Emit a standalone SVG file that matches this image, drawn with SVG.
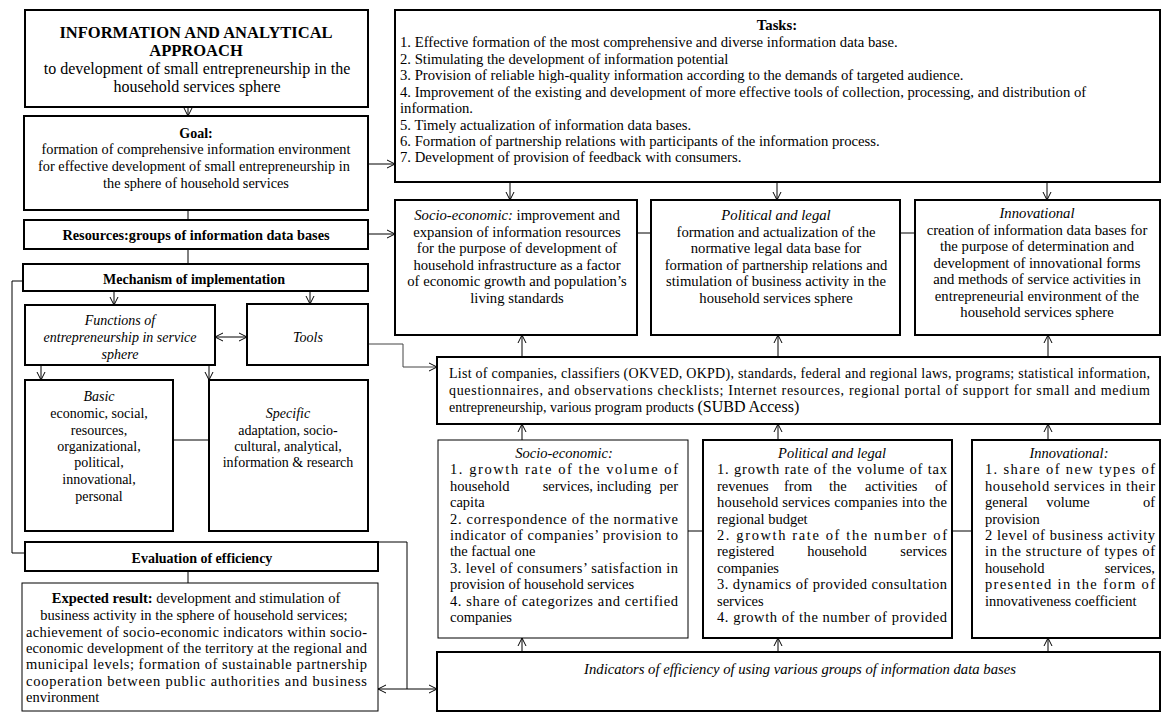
<svg xmlns="http://www.w3.org/2000/svg" width="1168" height="720" viewBox="0 0 1168 720">
<defs>
<style>
.box{fill:#fff;stroke:#000;stroke-width:2}
.thin{stroke-width:1}
.t{font-family:"Liberation Serif","Times New Roman",serif;font-size:14px;fill:#000}
.m{font-size:14.7px}
.s143{font-size:14.3px}
.s145{font-size:14.5px}
.ttl{font-size:16.5px}
.sub{font-size:16px}
.c{text-anchor:middle}
.e{text-anchor:end}
.b{font-weight:bold}
.i{font-style:italic}
.ln{fill:none;stroke:#000;stroke-width:1}
.gr{stroke:#444}
.ar{marker-end:url(#a)}
.ar2{marker-end:url(#a);marker-start:url(#a)}
</style>
<marker id="a" markerWidth="10" markerHeight="10" refX="9" refY="5" orient="auto-start-reverse" markerUnits="userSpaceOnUse"><path d="M1,1 L9,5 L1,9" fill="none" stroke="#000" stroke-width="1"/></marker>
</defs>
<rect width="1168" height="720" fill="#fff"/>

<g id="connectors">
<path class="ln ar" d="M188,107 V116"/>
<path class="ln" d="M188,210 V220"/>
<path class="ln" d="M188,249 V264"/>
<path class="ln ar" d="M368,164 H395"/>
<path class="ln ar" d="M368,234 H395"/>
<path class="ln ar" d="M114,291 V305"/>
<path class="ln ar" d="M310,291 V304"/>
<path class="ln ar2" d="M215,337 H247"/>
<path class="ln ar" d="M41,365 V380"/>
<path class="ln ar" d="M209,365 V380"/>
<path class="ln" d="M173,440 H209"/>
<path class="ln" d="M23,281 H12 V553 H25"/>
<path class="ln" d="M188,571 V583"/>
<path class="ln" d="M378,542 H407 V689"/>
<path class="ln ar2" d="M378,689 H437"/>
<path class="ln gr ar" d="M368,344 H403 V367 H437"/>
<path class="ln ar" d="M510,183 V200"/>
<path class="ln ar" d="M777,183 V200"/>
<path class="ln ar" d="M1047,183 V200"/>
<path class="ln" d="M637,233 H651"/>
<path class="ln" d="M900,233 H915"/>
<path class="ln ar" d="M522,357 V335"/>
<path class="ln ar" d="M778,357 V335"/>
<path class="ln ar" d="M1048,357 V335"/>
<path class="ln ar" d="M522,440 V424"/>
<path class="ln ar" d="M778,440 V424"/>
<path class="ln ar" d="M1048,440 V424"/>
<path class="ln" d="M688,531 H703"/>
<path class="ln" d="M952,531 H972"/>
<path class="ln ar" d="M522,652 V638"/>
<path class="ln ar" d="M778,652 V638"/>
<path class="ln ar" d="M1048,652 V638"/>
</g>

<g id="title">
<rect class="box" x="25" y="10" width="343" height="97"/>
<text class="t ttl b c" x="196" y="38">INFORMATION AND ANALYTICAL</text>
<text class="t ttl b c" x="196" y="56">APPROACH</text>
<text class="t sub c" x="197" y="74">to development of small entrepreneurship in the</text>
<text class="t sub c" x="197" y="92">household services sphere</text>
</g>

<g id="goal">
<rect class="box" x="24" y="116" width="344" height="94"/>
<text class="t b c" x="196" y="138">Goal:</text>
<text class="t s143 c" x="196" y="154">formation of comprehensive  information environment</text>
<text class="t s143 c" x="194" y="171">for effective development  of small entrepreneurship  in</text>
<text class="t s143 c" x="196" y="188">the sphere of household  services</text>
</g>

<g id="resources">
<rect class="box" x="24" y="220" width="344" height="29"/>
<text class="t s143 b c" x="196" y="240">Resources:groups  of information  data bases</text>
</g>

<g id="mechanism">
<rect class="box" x="23" y="264" width="345" height="27"/>
<text class="t b c" x="194" y="284">Mechanism  of implementation</text>
</g>

<g id="functions">
<rect class="box" x="25" y="305" width="190" height="60"/>
<text class="t i c" x="120" y="325">Functions  of</text>
<text class="t i c" x="120" y="342">entrepreneurship   in service</text>
<text class="t i c" x="120" y="359">sphere</text>
</g>

<g id="tools">
<rect class="box" x="247" y="304" width="121" height="61"/>
<text class="t i c" x="308" y="342">Tools</text>
</g>

<g id="basic">
<rect class="box" x="25" y="380" width="148" height="151"/>
<text class="t i c" x="99" y="401">Basic</text>
<text class="t c" x="99" y="418">economic,  social,</text>
<text class="t c" x="99" y="435">resources,</text>
<text class="t c" x="99" y="451">organizational,</text>
<text class="t c" x="99" y="467">political,</text>
<text class="t c" x="99" y="484">innovational,</text>
<text class="t c" x="99" y="501">personal</text>
</g>

<g id="specific">
<rect class="box" x="209" y="380" width="159" height="151"/>
<text class="t i c" x="288" y="418">Specific</text>
<text class="t c" x="288" y="435">adaptation,  socio-</text>
<text class="t c" x="288" y="451">cultural,  analytical,</text>
<text class="t c" x="288" y="467">information &amp; research</text>
</g>

<g id="evaluation">
<rect class="box" x="25" y="542" width="353" height="29"/>
<text class="t b c" x="202" y="563">Evaluation  of efficiency</text>
</g>

<g id="expected">
<rect class="box thin" x="22" y="583" width="356" height="128"/>
<text class="t s145 c" x="196" y="603"><tspan class="b">Expected  result:</tspan> development  and  stimulation  of</text>
<text class="t s145 c" x="194" y="620">business activity in the sphere of household services;</text>
<text class="t s145" x="26" y="637" textLength="341" lengthAdjust="spacing">achievement of socio-economic indicators within socio-</text>
<text class="t s145" x="26" y="653" textLength="341" lengthAdjust="spacing">economic development of the territory at the regional and</text>
<text class="t s145" x="26" y="669" textLength="341" lengthAdjust="spacing">municipal levels; formation of sustainable partnership</text>
<text class="t s145" x="26" y="686" textLength="341" lengthAdjust="spacing">cooperation between public authorities and business</text>
<text class="t s145" x="26" y="702">environment</text>
</g>

<g id="tasks">
<rect class="box" x="395" y="10" width="765" height="172"/>
<text class="t m b c" x="777" y="30">Tasks:</text>
<text class="t m" x="400" y="47">1. Effective formation of the most comprehensive  and diverse information data base.</text>
<text class="t m" x="400" y="64">2. Stimulating the development  of information potential</text>
<text class="t m" x="400" y="80">3. Provision of reliable high-quality  information according to the demands  of targeted audience.</text>
<text class="t m" x="400" y="97">4. Improvement of the existing and development  of more effective tools of collection,  processing,  and distribution of</text>
<text class="t m" x="400" y="113">information.</text>
<text class="t m" x="400" y="130">5. Timely actualization  of information data bases.</text>
<text class="t m" x="400" y="146">6. Formation of partnership  relations with participants  of the information process.</text>
<text class="t m" x="400" y="162">7. Development  of provision of feedback  with consumers.</text>
</g>

<g id="upper-socio">
<rect class="box" x="395" y="200" width="242" height="135"/>
<text class="t m c" x="517" y="220"><tspan class="i">Socio-economic:</tspan>  improvement and</text>
<text class="t m c" x="517" y="237">expansion  of information resources</text>
<text class="t m c" x="517" y="253">for the purpose of development  of</text>
<text class="t m c" x="517" y="270">household  infrastructure as a factor</text>
<text class="t m c" x="517" y="286">of economic growth and population’s</text>
<text class="t m c" x="517" y="303">living standards</text>
</g>

<g id="upper-political">
<rect class="box" x="651" y="200" width="249" height="135"/>
<text class="t m i c" x="776" y="220">Political and legal</text>
<text class="t m c" x="776" y="237">formation and actualization  of the</text>
<text class="t m c" x="776" y="253">normative legal data base for</text>
<text class="t m c" x="776" y="270">formation of partnership relations and</text>
<text class="t m c" x="776" y="286">stimulation of business activity in the</text>
<text class="t m c" x="776" y="303">household services  sphere</text>
</g>

<g id="upper-innovational">
<rect class="box" x="915" y="200" width="245" height="135"/>
<text class="t m i c" x="1037" y="218">Innovational</text>
<text class="t m c" x="1037" y="235">creation of information data bases  for</text>
<text class="t m c" x="1037" y="251">the purpose  of determination and</text>
<text class="t m c" x="1037" y="268">development  of innovational  forms</text>
<text class="t m c" x="1037" y="284">and methods  of service activities in</text>
<text class="t m c" x="1037" y="301">entrepreneurial  environment of the</text>
<text class="t m c" x="1037" y="317">household  services  sphere</text>
</g>

<g id="list">
<rect class="box" x="437" y="357" width="723" height="67"/>
<text class="t" x="449" y="378" textLength="701" lengthAdjust="spacing">List of companies, classifiers (OKVED, OKPD), standards, federal and regional laws, programs; statistical information,</text>
<text class="t" x="449" y="395" textLength="701" lengthAdjust="spacing">questionnaires, and observations checklists; Internet resources, regional portal of support for small and medium</text>
<text class="t" x="449" y="412">entrepreneurship,  various program products <tspan font-size="16">(SUBD Access)</tspan></text>
</g>

<g id="lower-socio">
<rect class="box thin" x="438" y="440" width="250" height="198"/>
<text class="t s145 i c" x="564" y="458">Socio-economic:</text>
<text class="t s145" x="450" y="474" textLength="228" lengthAdjust="spacing">1. growth rate of the volume of</text>
<text class="t s145" x="450" y="491">household</text><text class="t s145 c" x="597" y="491">services,   including</text><text class="t s145 e" x="678" y="491">per</text>
<text class="t s145" x="450" y="507">capita</text>
<text class="t s145" x="450" y="524" textLength="228" lengthAdjust="spacing">2. correspondence of the normative</text>
<text class="t s145" x="450" y="540" textLength="228" lengthAdjust="spacing">indicator of companies’ provision to</text>
<text class="t s145" x="450" y="556">the factual one</text>
<text class="t s145" x="450" y="573" textLength="228" lengthAdjust="spacing">3. level of consumers’ satisfaction in</text>
<text class="t s145" x="450" y="589">provision of household  services</text>
<text class="t s145" x="450" y="606" textLength="228" lengthAdjust="spacing">4. share of categorizes and certified</text>
<text class="t s145" x="450" y="622">companies</text>
</g>

<g id="lower-political">
<rect class="box" x="703" y="440" width="249" height="198"/>
<text class="t s145 i c" x="832" y="458">Political and legal</text>
<text class="t s145" x="717" y="474" textLength="230" lengthAdjust="spacing">1. growth rate of the volume of tax</text>
<text class="t s145" x="717" y="491">revenues</text><text class="t s145" x="784" y="491">from</text><text class="t s145" x="829" y="491">the</text><text class="t s145" x="865" y="491">activities</text><text class="t s145 e" x="947" y="491">of</text>
<text class="t s145" x="717" y="507" textLength="230" lengthAdjust="spacing">household services companies into the</text>
<text class="t s145" x="717" y="524">regional budget</text>
<text class="t s145" x="717" y="540" textLength="230" lengthAdjust="spacing">2. growth rate of the number of</text>
<text class="t s145" x="717" y="556">registered</text><text class="t s145 c" x="837" y="556">household</text><text class="t s145 e" x="947" y="556">services</text>
<text class="t s145" x="717" y="573">companies</text>
<text class="t s145" x="717" y="589" textLength="230" lengthAdjust="spacing">3. dynamics of provided consultation</text>
<text class="t s145" x="717" y="606">services</text>
<text class="t s145" x="717" y="622" textLength="230" lengthAdjust="spacing">4. growth of the number of provided</text>
</g>

<g id="lower-innovational">
<rect class="box" x="972" y="440" width="188" height="198"/>
<text class="t s145 i c" x="1069" y="458">Innovational:</text>
<text class="t s145" x="985" y="474" textLength="170" lengthAdjust="spacing">1. share of new types of</text>
<text class="t s145" x="985" y="491" textLength="170" lengthAdjust="spacing">household services in their</text>
<text class="t s145" x="985" y="507">general</text><text class="t s145 c" x="1068" y="507">volume</text><text class="t s145 e" x="1155" y="507">of</text>
<text class="t s145" x="985" y="524">provision</text>
<text class="t s145" x="985" y="540" textLength="170" lengthAdjust="spacing">2 level of business activity</text>
<text class="t s145" x="985" y="556" textLength="170" lengthAdjust="spacing">in the structure of types of</text>
<text class="t s145" x="985" y="573">household</text><text class="t s145 e" x="1155" y="573">services,</text>
<text class="t s145" x="985" y="589" textLength="170" lengthAdjust="spacing">presented in the form of</text>
<text class="t s145" x="985" y="606">innovativeness  coefficient</text>
</g>

<g id="indicators">
<rect class="box" x="437" y="652" width="723" height="59"/>
<text class="t m i c" x="800" y="674">Indicators of efficiency  of using various groups  of information data bases</text>
</g>
</svg>
